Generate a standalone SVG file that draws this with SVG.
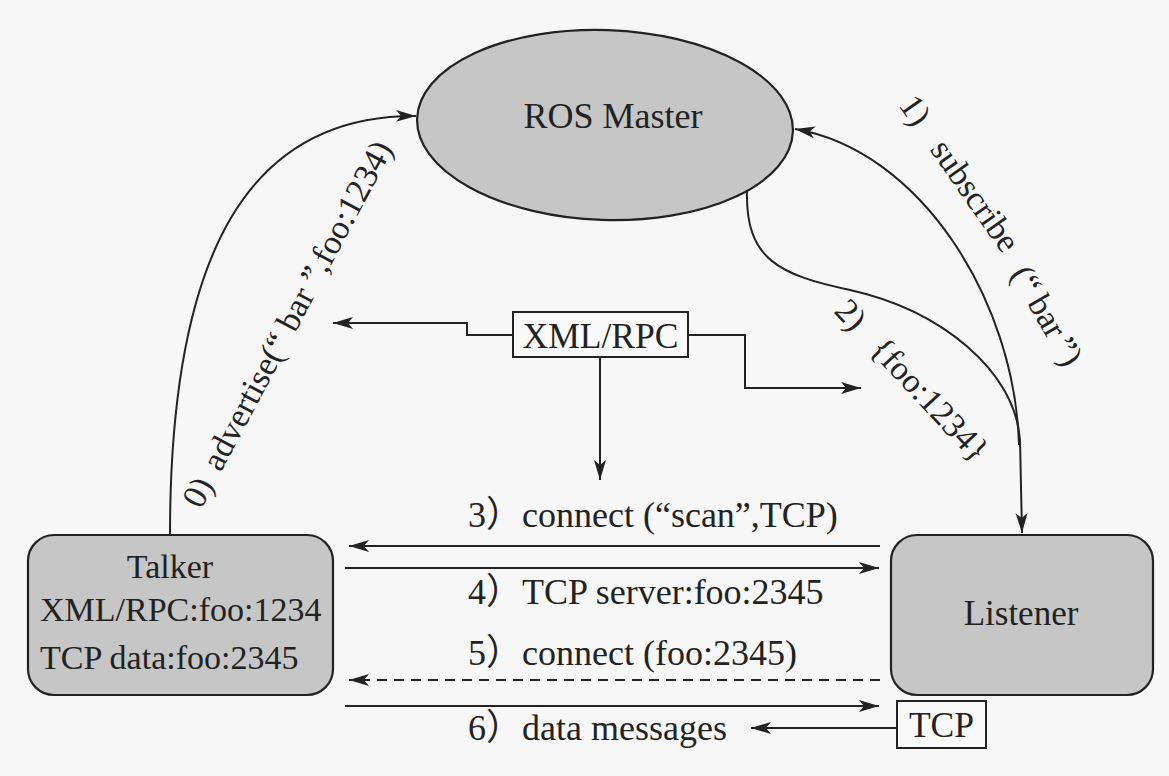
<svg xmlns="http://www.w3.org/2000/svg" width="1169" height="776" viewBox="0 0 1169 776">
<defs>
<style>
.t{font-family:"Liberation Serif","Times New Roman","Noto Sans CJK SC",serif;font-size:34px;fill:#222}
.b{font-size:36px}
.ln{fill:none;stroke:#222;stroke-width:2}
.node{fill:#c6c6c6;stroke:#222;stroke-width:2.2}
.box{fill:#f9f9f9;stroke:#222;stroke-width:2}
</style>
<marker id="ah" markerUnits="userSpaceOnUse" markerWidth="22" markerHeight="14" refX="20" refY="7" orient="auto">
<path d="M0,1 L20,7 L0,13 L5,7 z" fill="#222"/>
</marker>
</defs>
<rect width="1169" height="776" fill="#f7f7f7"/>

<g id="ros-master">
<ellipse class="node" cx="605" cy="125" rx="188" ry="95" transform="rotate(2 605 125)"/>
<text class="t b" x="613" y="128" text-anchor="middle">ROS Master</text>
</g>

<g id="talker">
<rect class="node" x="28" y="535" width="305" height="160" rx="26"/>
<text class="t" x="170" y="578" text-anchor="middle">Talker</text>
<text class="t" x="40" y="621">XML/RPC:foo:1234</text>
<text class="t" x="40" y="669">TCP data:foo:2345</text>
</g>

<g id="listener">
<rect class="node" x="891" y="535" width="262" height="160" rx="26"/>
<text class="t" x="1021" y="625" text-anchor="middle" style="font-size:35px">Listener</text>
</g>

<g id="xmlrpc">
<rect class="box" x="513" y="312" width="175" height="45"/>
<text class="t" x="600.5" y="348" text-anchor="middle" style="font-size:35.5px">XML/RPC</text>
</g>

<g id="tcp">
<rect class="box" x="897" y="701" width="89" height="47"/>
<text class="t" x="941.5" y="737" text-anchor="middle" style="font-size:35.5px">TCP</text>
</g>

<g id="connectors">
<path class="ln" d="M170,535 C170,250 250,115 416,116" marker-end="url(#ah)"/>
<path class="ln" d="M1019,445 C1015,300 920,150 795,129" marker-end="url(#ah)"/>
<path class="ln" d="M747,190 C745,260 780,275 850,290 C940,310 1015,370 1020,440 L1022,533" marker-end="url(#ah)"/>
<path class="ln" d="M513,335 L467,335 L467,323 L333,323" marker-end="url(#ah)"/>
<path class="ln" d="M688,335 L745,335 L745,388 L861,388" marker-end="url(#ah)"/>
<path class="ln" d="M600,357 L600,480" marker-end="url(#ah)"/>
<path class="ln" d="M880,546 L349,546" marker-end="url(#ah)"/>
<path class="ln" d="M345,568 L879,568" marker-end="url(#ah)"/>
<path class="ln" d="M880,680 L349,680" stroke-dasharray="10,7" marker-end="url(#ah)"/>
<path class="ln" d="M345,706 L879,706" marker-end="url(#ah)"/>
<path class="ln" d="M897,728 L751,728" marker-end="url(#ah)"/>
</g>

<g id="labels">
<text class="t" transform="translate(201,510) rotate(-62)">0)<tspan dx="14">advertise(“ bar ”,foo:1234)</tspan></text>
<text class="t" transform="translate(898,105) rotate(55)">1)<tspan dx="26">subscribe</tspan></text>
<text class="t" transform="translate(1010,274) rotate(60)">(“<tspan dx="7">bar</tspan><tspan dx="6">”)</tspan></text>
<text class="t" transform="translate(833,312) rotate(47)">2)<tspan dx="24">{foo:1234}</tspan></text>
<text class="t b" x="468" y="527">3）connect (“scan”,TCP)</text>
<text class="t b" x="468" y="604">4）TCP server:foo:2345</text>
<text class="t b" x="468" y="665">5）connect (foo:2345)</text>
<text class="t b" x="468" y="740">6）data messages</text>
</g>
</svg>
